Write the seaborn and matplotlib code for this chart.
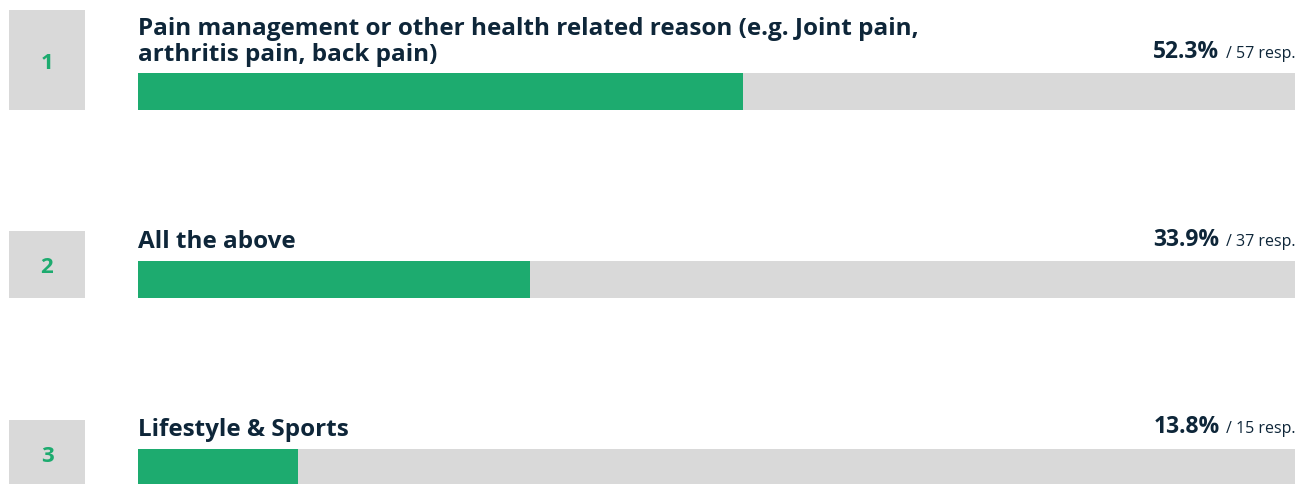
import matplotlib
matplotlib.use("Agg")
import matplotlib.pyplot as plt
import matplotlib.transforms as mtransforms
from matplotlib.patches import Rectangle
import seaborn as sns
import pandas as pd

# Survey answers, ranked
ranks = ["1", "2", "3"]
answers = [
    "Pain management or other health related reason (e.g. Joint pain,\narthritis pain, back pain)",
    "All the above",
    "Lifestyle & Sports",
]
percents = [52.3, 33.9, 13.8]
responses = [57, 37, 15]

GREEN = "#1dab6f"
TRACK = "#d9d9d9"
INK = "#0e2639"

sns.set_theme(style="white")
plt.rcParams["font.family"] = ["Open Sans", "DejaVu Sans"]

W, H, DPI = 1308, 485, 100
fig = plt.figure(figsize=(W / DPI, H / DPI), dpi=DPI)
fig.patch.set_facecolor("white")

# Bars occupy x 138..1295 px; rows are spaced 188 px apart
left_px, right_px = 138, 1295
ax = fig.add_axes([left_px / W, 0, (right_px - left_px) / W, 1])
row_px = 188.0
first_center = 92.5
top_k = -first_center / row_px
bot_k = (H - first_center) / row_px

df = pd.DataFrame({"answer": answers, "pct": percents, "full": [100] * len(answers)})

bar_w = 37.5 / row_px
sns.barplot(data=df, x="full", y="answer", orient="h", color=TRACK,
            width=bar_w, saturation=1, linewidth=0, ax=ax)
sns.barplot(data=df, x="pct", y="answer", orient="h", color=GREEN,
            width=bar_w, saturation=1, linewidth=0, ax=ax)

ax.set_xlim(0, 100)
ax.set_ylim(bot_k, top_k)
ax.axis("off")

px = lambda p: p / row_px

# Answer titles above each bar
for i, txt in enumerate(answers):
    ax.text(0, i - px(32), txt, ha="left", va="baseline", fontsize=17.5,
            fontweight="bold", color=INK, linespacing=1.1)

# Percentage and response counts, right aligned
fig.canvas.draw()
renderer = fig.canvas.get_renderer()
for i, (p, n) in enumerate(zip(percents, responses)):
    small = ax.text(100, i - px(35), f"/ {n} resp.", ha="right", va="baseline",
                    fontsize=11.5, color=INK)
    ext = small.get_window_extent(renderer)
    ax.annotate(f"{p:.1f}%", xy=(100, i - px(35)), xycoords="data",
                xytext=(-(ext.width + 6) * 72 / DPI, 0), textcoords="offset points",
                ha="right", va="baseline", fontsize=16.5, fontweight="bold", color=INK)

# Rank badges on the left
blend = mtransforms.blended_transform_factory(fig.transFigure, ax.transData)
box_tops = [81.5, 49, 47.5]
for i, (r, t) in enumerate(zip(ranks, box_tops)):
    y0 = i - px(t)
    y1 = i + bar_w / 2
    rect = Rectangle((9 / W, y0), 76 / W, y1 - y0, transform=blend,
                     facecolor=TRACK, edgecolor="none", clip_on=False)
    ax.add_patch(rect)
    ax.text(47 / W, (y0 + y1) / 2 + px(2), r, transform=blend, ha="center", va="center",
            fontsize=16, fontweight="bold", color=GREEN, clip_on=False)

fig.savefig("out.png", dpi=DPI, facecolor="white")
